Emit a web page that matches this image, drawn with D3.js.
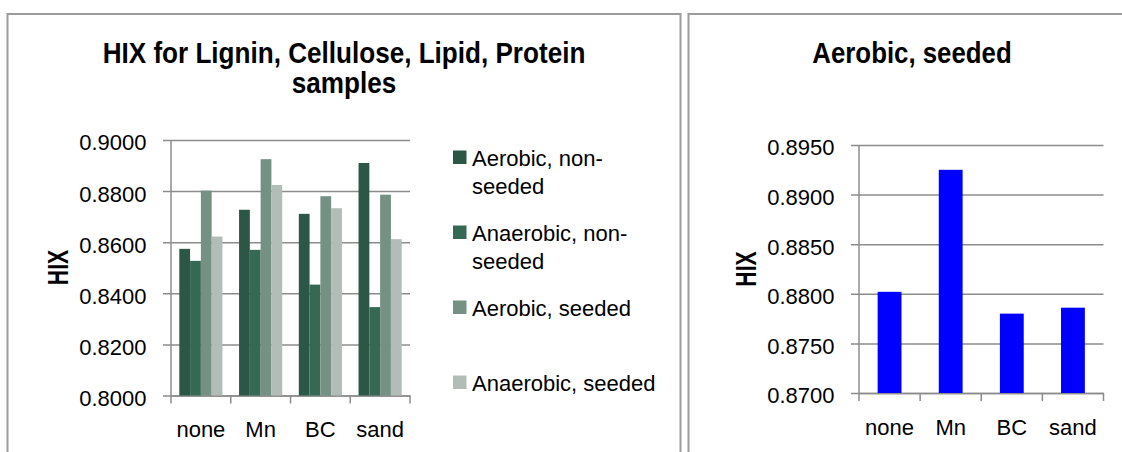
<!DOCTYPE html>
<html>
<head>
<meta charset="utf-8">
<script src="https://cdn.jsdelivr.net/npm/d3@7"></script>
<style>
  html, body { margin: 0; padding: 0; background: #fff; }
  svg { display: block; }
  text { font-family: "Liberation Sans", Arial, sans-serif; fill: #000; }
</style>
</head>
<body>
<svg id="chart" width="1122" height="452"></svg>
<script>
// Treatments along the x axis
const categories = ["none", "Mn", "BC", "sand"];

// HIX series (left panel)
const seriesNames = ["Aerobic, non-seeded", "Anaerobic, non-seeded", "Aerobic, seeded", "Anaerobic, seeded"];
const aerobicNonSeeded   = [0.8574, 0.8727, 0.8711, 0.8910];
const anaerobicNonSeeded = [0.8527, 0.8570, 0.8434, 0.8346];
const aerobicSeeded      = [0.8802, 0.8925, 0.8780, 0.8786];
const anaerobicSeeded    = [0.8622, 0.8824, 0.8733, 0.8612];
const seriesColors = ["#2c5645", "#366954", "#759183", "#b3bdb7"];

// Axis ticks
const leftTicks  = [0.80, 0.82, 0.84, 0.86, 0.88, 0.90];
const rightTicks = [0.870, 0.875, 0.880, 0.885, 0.890, 0.895];

const leftTitle  = ["HIX for Lignin, Cellulose, Lipid, Protein", "samples"];
const rightTitle = "Aerobic, seeded";
const yLabel = "HIX";

const seriesValues = [aerobicNonSeeded, anaerobicNonSeeded, aerobicSeeded, anaerobicSeeded];

const svg = d3.select("#chart");
const GRID = "#8c8c8c";
const FONT = 22;

// Panel frames (open at the bottom)
svg.append("path").attr("d", "M7.5,452V14H680.5V452")
  .attr("fill", "none").attr("stroke", "#9c9c9c").attr("stroke-width", 2);
svg.append("path").attr("d", "M688.5,452V14H1130")
  .attr("fill", "none").attr("stroke", "#9c9c9c").attr("stroke-width", 2);

function boldText(g, str, x, y, sx) {
  return g.append("text")
    .attr("transform", `translate(${x},${y}) scale(${sx},1)`)
    .attr("text-anchor", "middle")
    .style("font-weight", "bold").style("font-size", "29px")
    .text(str);
}

function drawAxes(g, x0, y, ticks, plotW, plotH) {
  // horizontal gridlines + y labels
  const ay = g.append("g")
    .call(d3.axisLeft(y).tickValues(ticks).tickFormat(d3.format(".4f"))
      .tickSizeInner(-plotW).tickSizeOuter(0).tickPadding(24.5));
  ay.select(".domain").remove();
  ay.selectAll(".tick line").attr("x1", -8).attr("stroke", GRID).attr("stroke-width", 1.5);
  ay.selectAll(".tick text").style("font-size", FONT + "px")
    .attr("dy", "0.45em").style("font-family", "Liberation Sans, Arial, sans-serif");

  // vertical axis line
  g.append("line").attr("x1", 0).attr("x2", 0).attr("y1", 0).attr("y2", plotH)
    .attr("stroke", GRID).attr("stroke-width", 1.5);

  // category labels
  const ax = g.append("g").attr("transform", `translate(0,${plotH})`)
    .call(d3.axisBottom(x0).tickSize(0).tickPadding(26));
  ax.select(".domain").attr("stroke", GRID).attr("stroke-width", 1.5);
  ax.selectAll(".tick text").style("font-size", FONT + "px")
    .style("font-family", "Liberation Sans, Arial, sans-serif");

  // tick marks between categories
  const bounds = d3.range(categories.length + 1).map(i => i * x0.step());
  g.append("g").selectAll("line").data(bounds).join("line")
    .attr("x1", d => d).attr("x2", d => d)
    .attr("y1", plotH).attr("y2", plotH + 8)
    .attr("stroke", GRID).attr("stroke-width", 1.5);
}

// ---------- Left panel: grouped bars ----------
{
  const left = 171, top = 140, plotW = 239, plotH = 255.5;
  const g = svg.append("g").attr("transform", `translate(${left},${top})`);
  const x0 = d3.scaleBand().domain(categories).range([0, plotW]);
  const x1 = d3.scaleBand().domain(seriesNames).range([0, x0.bandwidth()]).paddingOuter(0.77);
  const y = d3.scaleLinear().domain([0.80, 0.90]).range([plotH, 0]);

  drawAxes(g, x0, y, leftTicks, plotW, plotH);

  const rows = categories.map((c, i) => ({
    cat: c,
    vals: seriesNames.map((s, k) => ({ s, k, v: seriesValues[k][i] }))
  }));
  g.append("g").selectAll("g").data(rows).join("g")
    .attr("transform", d => `translate(${x0(d.cat)},0)`)
    .selectAll("rect").data(d => d.vals).join("rect")
    .attr("x", d => x1(d.s)).attr("width", x1.bandwidth())
    .attr("y", d => y(d.v)).attr("height", d => y(0.80) - y(d.v))
    .attr("fill", d => seriesColors[d.k]);

  boldText(svg, leftTitle[0], 344, 63.3, 0.9);
  boldText(svg, leftTitle[1], 344, 93.3, 0.9);

  svg.append("text")
    .attr("transform", `translate(68,267.5) rotate(-90) scale(0.73,1)`)
    .attr("text-anchor", "middle")
    .style("font-weight", "bold").style("font-size", "29px")
    .text(yLabel);

  // legend
  const baselines = [166, 241, 316, 391];
  const leg = svg.append("g");
  seriesNames.forEach((name, k) => {
    const idx = name.indexOf("non-");
    const lines = idx >= 0 ? [name.slice(0, idx + 4), name.slice(idx + 4)] : [name];
    leg.append("rect").attr("x", 453).attr("y", baselines[k] - 15.5)
      .attr("width", 13.5).attr("height", 13.5).attr("fill", seriesColors[k]);
    const t = leg.append("text").attr("x", 472).attr("y", baselines[k])
      .style("font-size", FONT + "px");
    lines.forEach((ln, j) => t.append("tspan").attr("x", 472)
      .attr("dy", j === 0 ? 0 : 27.5).text(ln));
  });
}

// ---------- Right panel: Aerobic, seeded ----------
{
  const left = 859, top = 145, plotW = 244.5, plotH = 248;
  const g = svg.append("g").attr("transform", `translate(${left},${top})`);
  const x0 = d3.scaleBand().domain(categories).range([0, plotW]);
  const xb = d3.scaleBand().domain(categories).range([0, plotW]).paddingInner(0.61).paddingOuter(0.305);
  const y = d3.scaleLinear().domain([0.870, 0.895]).range([plotH, 0]);

  drawAxes(g, x0, y, rightTicks, plotW, plotH);

  g.append("g").selectAll("rect").data(categories.map((c, i) => ({ c, v: aerobicSeeded[i] })))
    .join("rect")
    .attr("x", d => xb(d.c)).attr("width", xb.bandwidth())
    .attr("y", d => y(d.v)).attr("height", d => y(0.870) - y(d.v))
    .attr("fill", "#0000ff");

  boldText(svg, rightTitle, 912, 63.3, 0.89);

  svg.append("text")
    .attr("transform", `translate(756,269) rotate(-90) scale(0.73,1)`)
    .attr("text-anchor", "middle")
    .style("font-weight", "bold").style("font-size", "29px")
    .text(yLabel);
}
</script>
</body>
</html>
